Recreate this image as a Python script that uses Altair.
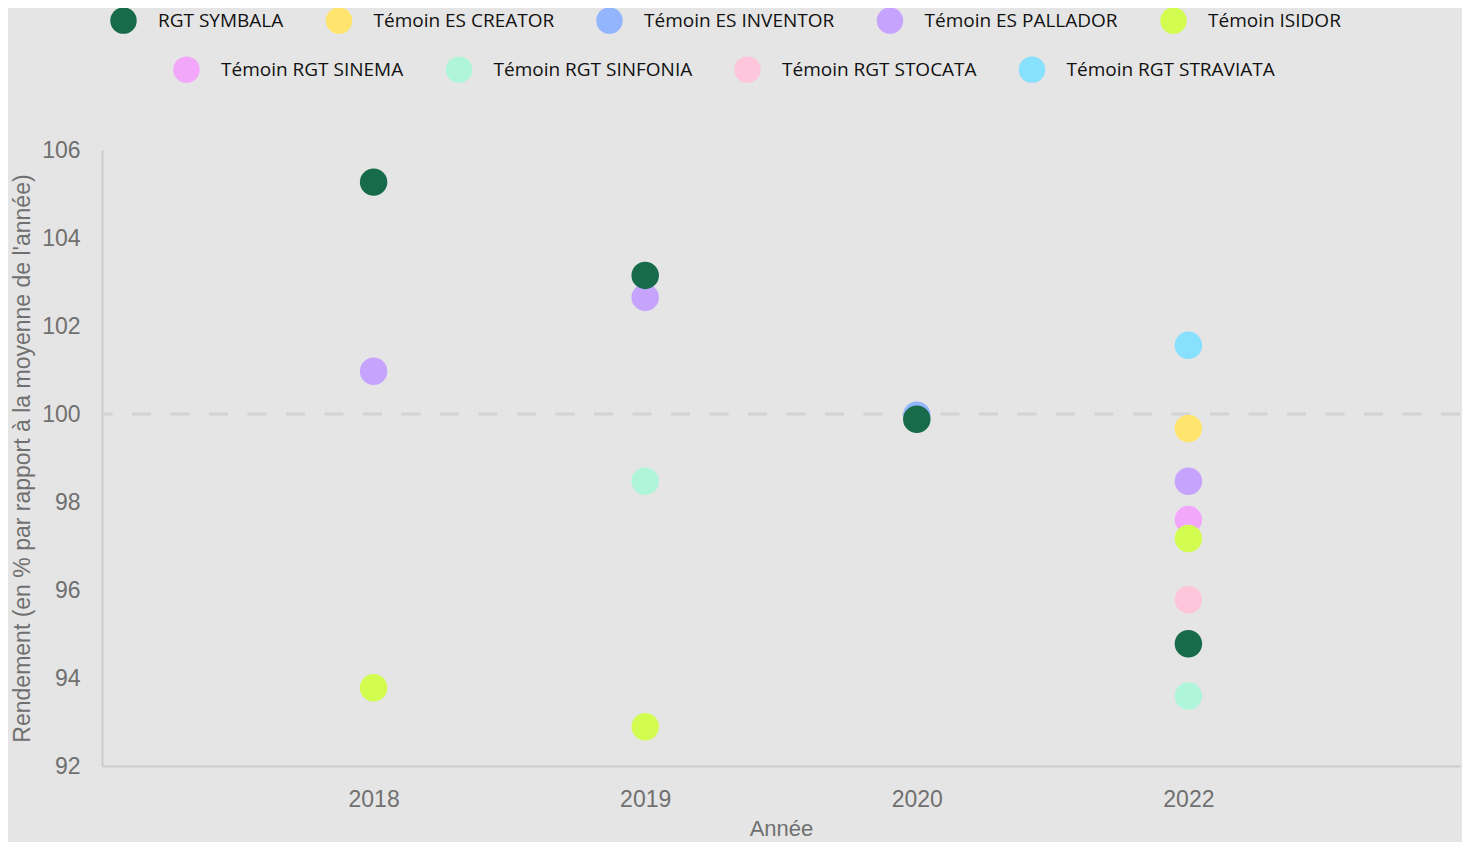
import altair as alt
import pandas as pd

years = ["2018", "2019", "2020", "2022"]

series_row1 = ["RGT SYMBALA", "Témoin ES CREATOR", "Témoin ES INVENTOR",
               "Témoin ES PALLADOR", "Témoin ISIDOR"]
colors_row1 = ["#176b4a", "#ffe46e", "#93b5fd", "#c6a4fd", "#d3fc50"]
series_row2 = ["Témoin RGT SINEMA", "Témoin RGT SINFONIA",
               "Témoin RGT STOCATA", "Témoin RGT STRAVIATA"]
colors_row2 = ["#f3a7fb", "#aef5da", "#fec6db", "#86e0fe"]

# values per year (2018, 2019, 2020, 2022); None = not tested
v_symbala = [105.27, 103.15, 99.88, 94.78]
v_creator = [None, None, None, 99.67]
v_inventor = [None, None, 99.97, None]
v_pallador = [100.97, 102.65, None, 98.47]
v_isidor = [93.78, 92.89, None, 97.17]
v_sinema = [None, None, None, 97.60]
v_sinfonia = [None, 98.47, None, 93.59]
v_stocata = [None, None, None, 95.78]
v_straviata = [None, None, None, 101.56]

values_row1 = [v_symbala, v_creator, v_inventor, v_pallador, v_isidor]
values_row2 = [v_sinema, v_sinfonia, v_stocata, v_straviata]

y_ticks = [92, 94, 96, 98, 100, 102, 104, 106]
y_title = "Rendement (en % par rapport à la moyenne de l'année)"


def frame(names, vals):
    rows = []
    # reverse order: first series drawn last (on top)
    for name, v in reversed(list(zip(names, vals))):
        for yr, val in zip(years, v):
            if val is not None:
                rows.append({"year": yr, "series": name, "value": val})
    return pd.DataFrame(rows)


y_scale = alt.Scale(domain=[92, 106], nice=False, zero=False)
y_axis = alt.Axis(title=y_title, values=y_ticks, ticks=False, tickSize=0,
                  labelPadding=22, titlePadding=7, grid=False)

x_enc = alt.X(
    "year:O",
    scale=alt.Scale(type="point", padding=1, domain=years),
    axis=alt.Axis(title="Année", labelAngle=0, ticks=False, tickSize=0,
                  labelPadding=22, titlePadding=7, titleFontSize=22,
                  grid=False),
)
y_enc = alt.Y("value:Q", scale=y_scale, axis=y_axis)


def points(names, cols, vals, lx, ly):
    return alt.Chart(frame(names, vals)).mark_circle(size=755, opacity=1).encode(
        x=x_enc,
        y=y_enc,
        color=alt.Color(
            "series:N",
            scale=alt.Scale(domain=names, range=cols),
            legend=alt.Legend(
                orient="none", legendX=lx, legendY=ly, direction="horizontal",
                title=None, symbolType="circle", symbolSize=700,
                symbolStrokeWidth=0, symbolOpacity=1,
                labelFont="Open Sans", labelFontSize=19, labelColor="#111111",
                labelLimit=500, labelOffset=21, columnPadding=41.5, padding=0,
            ),
        ),
    )


rule = alt.Chart(pd.DataFrame({"ref": [100]})).mark_rule(
    strokeDash=[19, 19.5], color="#d3d3d3", strokeWidth=3
).encode(y=alt.Y("ref:Q", scale=y_scale, axis=y_axis))

chart = alt.layer(
    rule,
    points(series_row2, colors_row2, values_row2, 71, -94),
    points(series_row1, colors_row1, values_row1, 8, -143),
).resolve_scale(color="independent").properties(
    width=1358, height=616,
    autosize=alt.AutoSizeParams(type="none"),
    padding={"left": 94, "top": 142, "right": 2, "bottom": 76},
).configure(
    background="#e5e5e5",
).configure_view(stroke=None).configure_axis(
    labelFont="Liberation Sans", titleFont="Liberation Sans",
    labelFontSize=23, titleFontSize=23, labelColor="#707070",
    titleColor="#707070", titleFontWeight="normal",
    domainColor="#cccccc", domainWidth=2,
)

chart.save("out.html", embed_options={"renderer": "svg", "actions": False})
